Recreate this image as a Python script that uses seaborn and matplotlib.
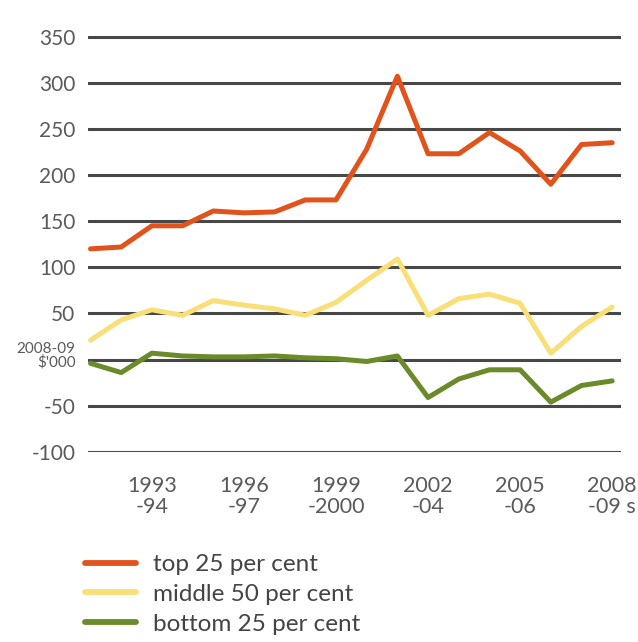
import matplotlib
matplotlib.use("Agg")
import matplotlib.pyplot as plt
import seaborn as sns
import pandas as pd
from matplotlib.lines import Line2D

years = ["1991-92", "1992-93", "1993-94", "1994-95", "1995-96", "1996-97", "1997-98",
         "1998-99", "1999-2000", "2000-01", "2001-02", "2002-04", "2003-04b", "2004-05",
         "2005-06", "2006-07", "2007-08", "2008-09"]
top25 = [120, 122, 145, 145, 161, 159, 160, 173, 173, 228, 307, 223, 223, 246, 226, 190, 233, 235]
middle50 = [21, 43, 54, 48, 64, 59, 55, 48, 62, 86, 109, 48, 66, 71, 61, 7, 36, 57]
bottom25 = [-4, -14, 7, 4, 3, 3, 4, 2, 1, -2, 4, -41, -21, -11, -11, -46, -28, -23]
series_names = ["top 25 per cent", "middle 50 per cent", "bottom 25 per cent"]
colors = ["#E2531C", "#F8DF78", "#6B8A2A"]
x_labels = {2: "1993\n-94", 5: "1996\n-97", 8: "1999\n-2000", 11: "2002\n-04", 14: "2005\n-06",
            17: "2008\n-09 s"}
y_ticks = [350, 300, 250, 200, 150, 100, 50, 0, -50, -100]

rows = []
for name, vals in zip(series_names, [top25, middle50, bottom25]):
    for i, v in enumerate(vals):
        rows.append({"idx": i, "value": v, "group": name})
df = pd.DataFrame(rows)

sns.set_style("white")
plt.rcParams["font.family"] = ["Lato", "DejaVu Sans"]
tc = "#5a5a5a"

fig = plt.figure(figsize=(6.38, 6.42), dpi=100)
ax = fig.add_axes([0.138, 0.296, 0.835, 0.650])

for yv in y_ticks:
    ax.axhline(yv, color="#484848", lw=2.2, zorder=1)

sns.lineplot(data=df, x="idx", y="value", hue="group", palette=colors,
             hue_order=series_names, linewidth=3.6, ax=ax, legend=False, zorder=3)

ax.set_xlim(-0.08, 17.28)
ax.set_ylim(-100, 352)
for s in ax.spines.values():
    s.set_visible(False)

ax.set_yticks(y_ticks)
ylabs = [str(v) for v in y_ticks]
ylabs[y_ticks.index(0)] = ""
ax.set_yticklabels(ylabs, fontsize=15, color=tc)
ax.tick_params(axis="y", length=0, pad=9)
ax.annotate("2008-09\n$'000", xy=(0, 0), xycoords=("axes fraction", "data"),
            xytext=(-9, 3), textcoords="offset points", ha="right", va="center",
            fontsize=11, color=tc, linespacing=0.95)

ax.set_xticks(range(len(years)))
ax.set_xticklabels([x_labels.get(i, "") for i in range(len(years))], fontsize=15.5,
                   color=tc, linespacing=1.12)
ax.tick_params(axis="x", length=9, width=1, color="#777777", pad=8, direction="out")

ax.set_xlabel("")
ax.set_ylabel("")

handles = [Line2D([0], [0], color=c, lw=4.2) for c in colors]
fig.legend(handles, series_names, loc="upper left", bbox_to_anchor=(0.118, 0.152),
           frameon=False, handlelength=2.1, labelspacing=0.36,
           handletextpad=0.7, labelcolor="#444444", borderaxespad=0,
           prop={"size": 17.5})

fig.savefig("out.png", dpi=100)
